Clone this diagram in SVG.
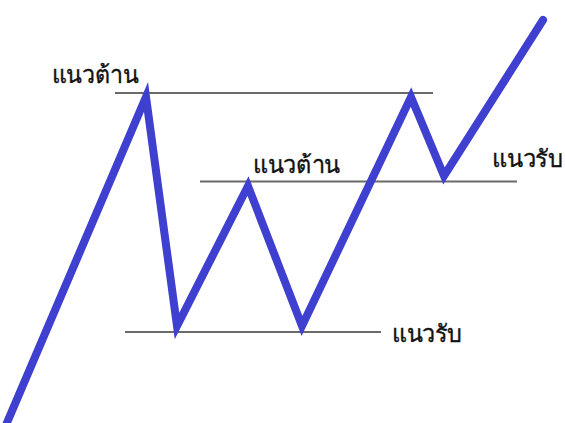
<svg xmlns="http://www.w3.org/2000/svg" width="565" height="423" viewBox="0 0 565 423">
<style>
.lvl{stroke:#6a6a6a;stroke-width:2;fill:none}
.price{stroke:#3f3fd0;stroke-width:8;fill:none;stroke-linejoin:miter;stroke-linecap:round}
.lbl{font-family:"Noto Sans","DejaVu Sans",sans-serif;font-size:24px;fill:#111;stroke:#111;stroke-width:0.35}
</style>
<rect width="565" height="423" fill="#fff"/>
<g id="levels">
<line id="res1" class="lvl" x1="115" y1="93" x2="433" y2="93"/>
<line id="res2" class="lvl" x1="200" y1="181.5" x2="517" y2="181.5"/>
<line id="sup1" class="lvl" x1="125" y1="332" x2="381" y2="332"/>
</g>
<g id="connectors">
<polyline class="price" points="6,425 146,97 177,326 248,186 302,326 411,97 444,176 543,20"/>
</g>
<g id="label-res1"><text class="lbl" x="52" y="83" textLength="86" lengthAdjust="spacingAndGlyphs">แนวต้าน</text></g>
<g id="label-res2"><text class="lbl" x="253" y="173" textLength="87" lengthAdjust="spacingAndGlyphs">แนวต้าน</text></g>
<g id="label-sup2"><text class="lbl" x="492" y="167" textLength="71" lengthAdjust="spacingAndGlyphs">แนวรับ</text></g>
<g id="label-sup1"><text class="lbl" x="392" y="342" textLength="70" lengthAdjust="spacingAndGlyphs">แนวรับ</text></g>
</svg>
